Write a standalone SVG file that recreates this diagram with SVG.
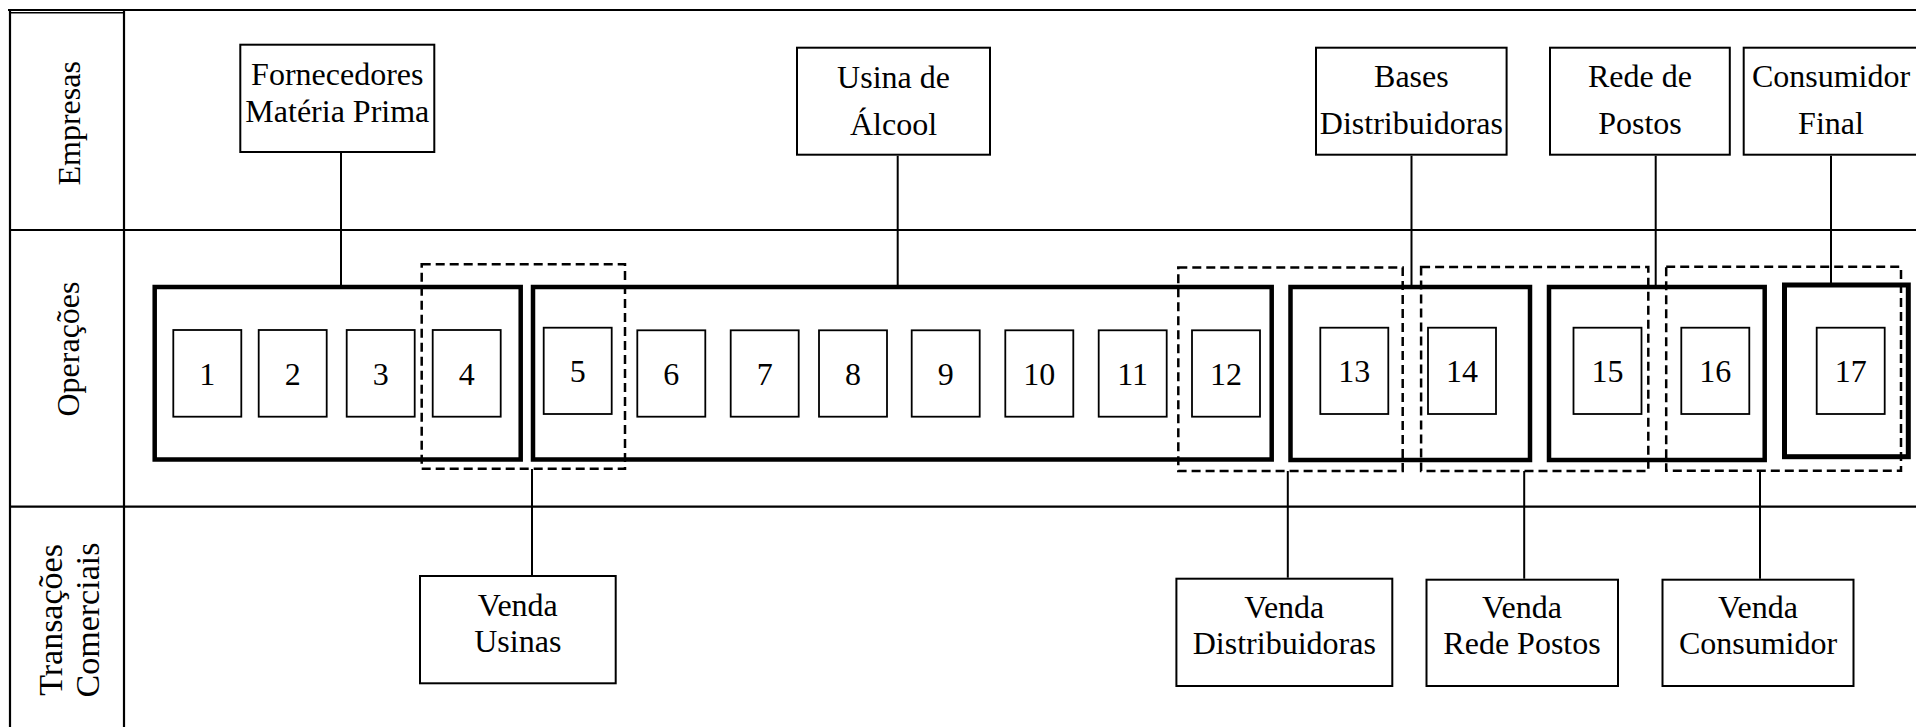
<svg xmlns="http://www.w3.org/2000/svg" width="1916" height="727" viewBox="0 0 1916 727">
<style>
text{font-family:"Liberation Serif","Times New Roman",serif;font-size:32px;fill:#000;text-anchor:middle}
.grid{stroke:#000;stroke-width:2.2;fill:none}
.box{fill:#fff;stroke:#000;stroke-width:2}
.op{fill:#fff;stroke:#000;stroke-width:1.8}
.main{fill:none;stroke:#000;stroke-width:4.5}
.dash{fill:none;stroke:#000;stroke-width:2.5;stroke-dasharray:9 5}
.conn{stroke:#000;stroke-width:2;fill:none}
.lane{font-size:32px}
.lane2{font-size:34px}
</style>
<rect width="1916" height="727" fill="#fff"/>
<g id="grid">
<line class="grid" x1="8" y1="10" x2="1916" y2="10"/>
<line class="grid" x1="10" y1="12.7" x2="124" y2="12.7" style="stroke-width:1.5"/>
<line class="grid" x1="10" y1="230" x2="1916" y2="230"/>
<line class="grid" x1="10" y1="506.7" x2="1916" y2="506.7"/>
<line class="grid" x1="10" y1="10" x2="10" y2="727"/>
<line class="grid" x1="124" y1="10" x2="124" y2="727"/>
<text class="lane" transform="translate(80,123.3) rotate(-90)">Empresas</text>
<text class="lane" transform="translate(79,349) rotate(-90)">Operações</text>
<text class="lane2" transform="translate(62,620) rotate(-90)">Transações</text>
<text class="lane2" transform="translate(99,620) rotate(-90)">Comerciais</text>
</g>
<g id="connectors">
<line class="conn" x1="341" y1="153" x2="341" y2="287"/>
<line class="conn" x1="897.7" y1="155.7" x2="897.7" y2="287"/>
<line class="conn" x1="1411.5" y1="155.7" x2="1411.5" y2="287"/>
<line class="conn" x1="1655.7" y1="155.7" x2="1655.7" y2="287"/>
<line class="conn" x1="1831" y1="155.7" x2="1831" y2="285"/>
<line class="conn" x1="532" y1="469" x2="532" y2="575"/>
<line class="conn" x1="1287.8" y1="471" x2="1287.8" y2="577.7"/>
<line class="conn" x1="1524.2" y1="471" x2="1524.2" y2="578.7"/>
<line class="conn" x1="1760" y1="471" x2="1760" y2="578.7"/>
</g>
<g id="empresa-fornecedores">
<rect class="box" x="240.3" y="44.7" width="194" height="107.3"/>
<text x="337.3" y="85">Fornecedores</text>
<text x="337.3" y="121.7">Matéria Prima</text>
</g>
<g id="empresa-usina">
<rect class="box" x="797" y="47.7" width="193" height="107"/>
<text x="893.5" y="88.3">Usina de</text>
<text x="893.5" y="135">Álcool</text>
</g>
<g id="empresa-bases">
<rect class="box" x="1316" y="47.7" width="190.6" height="107"/>
<text x="1411.4" y="87.3">Bases</text>
<text x="1411.4" y="134">Distribuidoras</text>
</g>
<g id="empresa-rede">
<rect class="box" x="1550" y="47.7" width="179.8" height="107"/>
<text x="1640" y="87.3">Rede de</text>
<text x="1640" y="134">Postos</text>
</g>
<g id="empresa-consumidor">
<rect class="box" x="1743.7" y="47.7" width="180" height="107"/>
<text x="1831" y="87.3">Consumidor</text>
<text x="1831" y="134">Final</text>
</g>
<g id="grupo-fornecedores">
<rect class="main" x="154.7" y="287" width="366" height="172.5"/>
</g>
<g id="grupo-usina">
<rect class="main" x="533" y="287" width="738.7" height="172.5"/>
</g>
<g id="grupo-bases">
<rect class="main" x="1290.5" y="287" width="239.5" height="173"/>
</g>
<g id="grupo-rede">
<rect class="main" x="1549" y="287" width="215.7" height="173"/>
</g>
<g id="grupo-consumidor">
<rect class="main" x="1784.5" y="285" width="123.8" height="171.7" style="stroke-width:5"/>
</g>
<g id="op-1"><rect class="op" x="173.3" y="330" width="68" height="86.7"/><text x="207.3" y="384.5">1</text></g>
<g id="op-2"><rect class="op" x="258.7" y="330" width="68" height="86.7"/><text x="292.7" y="384.5">2</text></g>
<g id="op-3"><rect class="op" x="346.7" y="330" width="68" height="86.7"/><text x="380.7" y="384.5">3</text></g>
<g id="op-4"><rect class="op" x="432.7" y="330" width="68" height="86.7"/><text x="466.7" y="384.5">4</text></g>
<g id="op-5"><rect class="op" x="543.7" y="327.7" width="68" height="86.3"/><text x="577.7" y="382">5</text></g>
<g id="op-6"><rect class="op" x="637.3" y="330.3" width="68" height="86.4"/><text x="671.3" y="385">6</text></g>
<g id="op-7"><rect class="op" x="730.7" y="330.3" width="68" height="86.4"/><text x="764.7" y="385">7</text></g>
<g id="op-8"><rect class="op" x="819" y="330.3" width="68" height="86.4"/><text x="853" y="385">8</text></g>
<g id="op-9"><rect class="op" x="911.7" y="330.3" width="68" height="86.4"/><text x="945.7" y="385">9</text></g>
<g id="op-10"><rect class="op" x="1005.3" y="330.3" width="68" height="86.4"/><text x="1039.3" y="385">10</text></g>
<g id="op-11"><rect class="op" x="1098.7" y="330.3" width="68" height="86.4"/><text x="1132.7" y="385">11</text></g>
<g id="op-12"><rect class="op" x="1192" y="330.3" width="68" height="86.4"/><text x="1226" y="385">12</text></g>
<g id="op-13"><rect class="op" x="1320.3" y="327.7" width="68" height="86.3"/><text x="1354.3" y="382">13</text></g>
<g id="op-14"><rect class="op" x="1428" y="327.7" width="68" height="86.3"/><text x="1462" y="382">14</text></g>
<g id="op-15"><rect class="op" x="1573.5" y="327.7" width="68" height="86.3"/><text x="1607.5" y="382">15</text></g>
<g id="op-16"><rect class="op" x="1681.3" y="327.7" width="68" height="86.3"/><text x="1715.3" y="382">16</text></g>
<g id="op-17"><rect class="op" x="1816.7" y="327.7" width="68" height="86.3"/><text x="1850.7" y="382">17</text></g>
<g id="transacao-usinas-area"><rect class="dash" x="421.7" y="264.3" width="203.3" height="204.4"/></g>
<g id="transacao-distribuidoras-area"><rect class="dash" x="1178.3" y="267.5" width="224.4" height="203.5"/></g>
<g id="transacao-rede-area"><rect class="dash" x="1421.1" y="267" width="227.2" height="204"/></g>
<g id="transacao-consumidor-area"><rect class="dash" x="1666.2" y="266.7" width="234.8" height="204"/></g>
<g id="venda-usinas">
<rect class="box" x="420" y="576" width="195.7" height="107.3"/>
<text x="517.8" y="616">Venda</text>
<text x="517.8" y="651.7">Usinas</text>
</g>
<g id="venda-distribuidoras">
<rect class="box" x="1176.4" y="578.7" width="215.9" height="107.3"/>
<text x="1284.3" y="618.3">Venda</text>
<text x="1284.3" y="654">Distribuidoras</text>
</g>
<g id="venda-rede-postos">
<rect class="box" x="1426.5" y="579.7" width="191.5" height="106.3"/>
<text x="1522" y="618.3">Venda</text>
<text x="1522" y="654">Rede Postos</text>
</g>
<g id="venda-consumidor">
<rect class="box" x="1662.5" y="579.7" width="191" height="106.3"/>
<text x="1758" y="618.3">Venda</text>
<text x="1758" y="654">Consumidor</text>
</g>
</svg>
